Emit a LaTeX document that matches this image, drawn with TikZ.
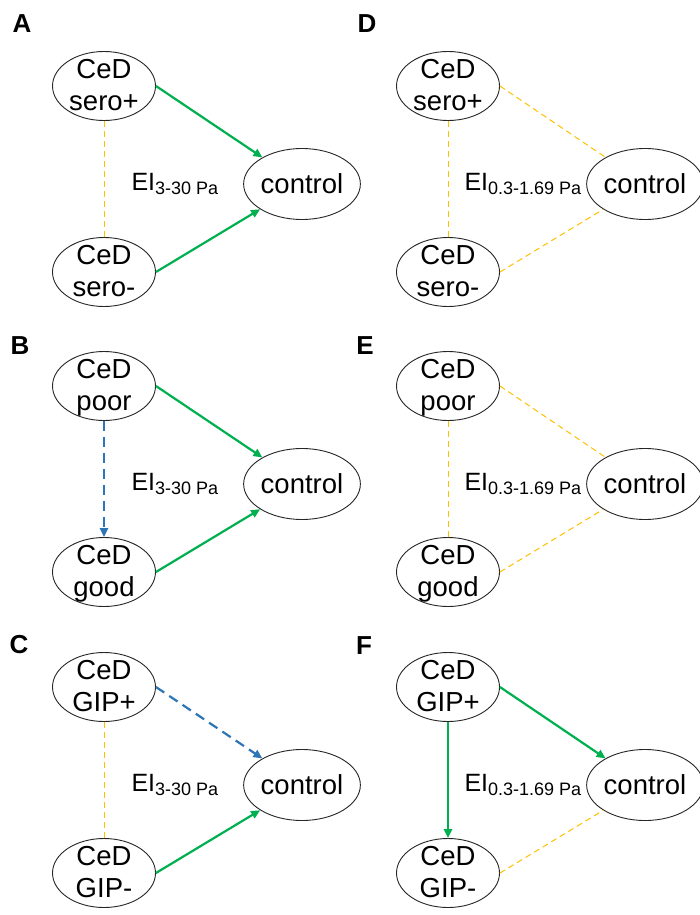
\documentclass[tikz,border=0pt]{standalone}
\usepackage{fontspec}
\setmainfont{Liberation Sans}
\usetikzlibrary{shapes.geometric,arrows.meta}
\definecolor{sgreen}{HTML}{00B050}
\definecolor{sblue}{HTML}{2E75B6}
\definecolor{syellow}{HTML}{FFC000}
\newcommand\cedfont{\fontsize{27.5}{32}\selectfont}
\newcommand\twoline[2]{\raisebox{-0.3em}[0pt][0pt]{\begin{tabular}{@{}c@{}}#1\\#2\end{tabular}}}
\newcommand\eisub[1]{EI{\fontsize{18}{18}\selectfont\raisebox{-4pt}{#1}}}
\tikzset{
  ced/.style={ellipse, draw=black!85, line width=0.9pt, minimum width=103pt, minimum height=69pt, inner sep=0pt, font=\cedfont},
  ctrl/.style={ellipse, draw=black!85, line width=0.9pt, minimum width=108pt, minimum height=71pt, inner sep=0pt, font=\cedfont},
  sig/.style={draw=sgreen, line width=2.2pt, -{Triangle[length=9pt,width=8pt]}},
  trend/.style={draw=sblue, line width=2.2pt, dash pattern=on 10pt off 6pt, -{Triangle[length=9pt,width=8pt]}},
  ns/.style={draw=syellow, line width=1pt, dash pattern=on 6pt off 4pt},
  plabel/.style={font=\bfseries\fontsize{26}{26}\selectfont},
  eilab/.style={anchor=base west, font=\fontsize{25}{25}\selectfont}
}
\begin{document}
\begin{tikzpicture}[x=1pt,y=-1pt]
\useasboundingbox[fill=white] (0,0) rectangle (700,915);
% ---------- A ----------
\node[plabel] (lA) at (22,24) {A};
\node[ced] (aT) at (104,86) {\twoline{CeD}{sero+}};
\node[ced] (aB) at (104,272) {\twoline{CeD}{sero-}};
\node[ctrl] (aC) at (302,184) {control};
\node[eilab] (aE) at (128,190) {\eisub{3-30 Pa}};
\draw[ns] (aT) -- (aB);
\draw[sig] (aT.east) -- (aC);
\draw[sig] (aB.east) -- (aC);
% ---------- B ----------
\node[plabel] (lB) at (20,346) {B};
\node[ced] (bT) at (104,386) {\twoline{CeD}{poor}};
\node[ced] (bB) at (104,572) {\twoline{CeD}{good}};
\node[ctrl] (bC) at (302,484) {control};
\node[eilab] (bE) at (128,490) {\eisub{3-30 Pa}};
\draw[trend] (bT) -- (bB);
\draw[sig] (bT.east) -- (bC);
\draw[sig] (bB.east) -- (bC);
% ---------- C ----------
\node[plabel] (lC) at (19,645) {C};
\node[ced] (cT) at (104,687) {\twoline{CeD}{GIP+}};
\node[ced] (cB) at (104,873) {\twoline{CeD}{GIP-}};
\node[ctrl] (cC) at (302,785) {control};
\node[eilab] (cE) at (128,791) {\eisub{3-30 Pa}};
\draw[ns] (cT) -- (cB);
\draw[trend] (cT.east) -- (cC);
\draw[sig] (cB.east) -- (cC);
% ---------- D ----------
\node[plabel] (lD) at (367,24) {D};
\node[ced] (dT) at (448,86) {\twoline{CeD}{sero+}};
\node[ced] (dB) at (448,272) {\twoline{CeD}{sero-}};
\node[ctrl] (dC) at (645,184) {control};
\node[eilab] (dE) at (461,190) {\eisub{0.3-1.69 Pa}};
\draw[ns] (dT) -- (dB);
\draw[ns] (dT.east) -- (dC);
\draw[ns] (dB.east) -- (dC);
% ---------- E ----------
\node[plabel] (lE) at (365,346) {E};
\node[ced] (eT) at (448,386) {\twoline{CeD}{poor}};
\node[ced] (eB) at (448,572) {\twoline{CeD}{good}};
\node[ctrl] (eC) at (645,484) {control};
\node[eilab] (eE) at (461,490) {\eisub{0.3-1.69 Pa}};
\draw[ns] (eT) -- (eB);
\draw[ns] (eT.east) -- (eC);
\draw[ns] (eB.east) -- (eC);
% ---------- F ----------
\node[plabel] (lF) at (364,646) {F};
\node[ced] (fT) at (448,687) {\twoline{CeD}{GIP+}};
\node[ced] (fB) at (448,873) {\twoline{CeD}{GIP-}};
\node[ctrl] (fC) at (645,785) {control};
\node[eilab] (fE) at (461,791) {\eisub{0.3-1.69 Pa}};
\draw[sig] (fT) -- (fB);
\draw[sig] (fT.east) -- (fC);
\draw[ns] (fB.east) -- (fC);
\end{tikzpicture}
\end{document}
